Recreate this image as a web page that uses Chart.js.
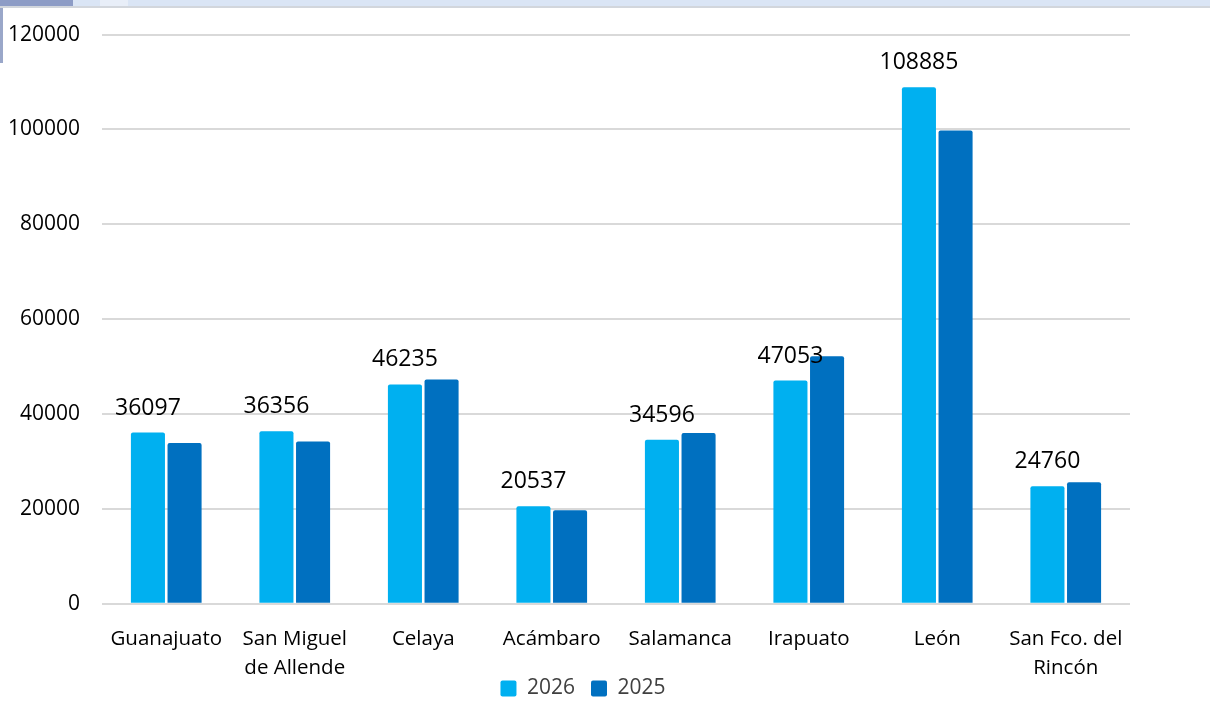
<!DOCTYPE html>
<html>
<head>
<meta charset="utf-8">
<script src="https://cdn.jsdelivr.net/npm/chart.js@4.4.1/dist/chart.umd.min.js"></script>
<style>
html,body{margin:0;padding:0;background:#fff;}
#wrap{position:relative;width:1210px;height:711px;overflow:hidden;}
#strip{position:absolute;left:0;top:0;width:1210px;height:6px;background:#dae5f5;border-bottom:2px solid #d2d6dc;}
#tab{position:absolute;left:0;top:0;width:73px;height:6px;background:#8d9cc6;}
#tab2{position:absolute;left:100px;top:0;width:28px;height:6px;background:#e8eef8;}
#edge{position:absolute;left:0;top:8px;width:3px;height:55px;background:#9aa7c9;}
canvas{position:absolute;left:0;top:0;}
</style>
</head>
<body>
<div id="wrap">
<canvas id="c" width="1210" height="711"></canvas>
<div id="strip"></div><div id="tab"></div><div id="tab2"></div><div id="edge"></div>
</div>
<script>
const categories = ["Guanajuato", ["San Miguel","de Allende"], "Celaya", "Acámbaro", "Salamanca", "Irapuato", "León", ["San Fco. del","Rincón"]];
const values2026 = [36097, 36356, 46235, 20537, 34596, 47053, 108885, 24760];
const values2025 = [33900, 34200, 47300, 19700, 36000, 52200, 99800, 25600];
const yTicks = [0, 20000, 40000, 60000, 80000, 100000, 120000];

const FONT = "'Open Sans', sans-serif";

const labelPlugin = {
  id: 'barLabels',
  afterLayout(chart) {
    const lg = chart.legend;
    if (lg) { lg.left += 14; lg.right += 14; lg.top -= 34; lg.bottom -= 34; }
  },
  afterDatasetsDraw(chart) {
    const ctx = chart.ctx;
    const meta = chart.getDatasetMeta(0);
    ctx.save();
    ctx.font = "23px " + FONT;
    ctx.fillStyle = "#000";
    ctx.textAlign = "center";
    ctx.textBaseline = "alphabetic";
    meta.data.forEach((bar, i) => {
      ctx.fillText(String(values2026[i]), bar.x, bar.y - 18);
    });
    ctx.restore();
  }
};

new Chart(document.getElementById('c'), {
  type: 'bar',
  data: {
    labels: categories,
    datasets: [
      { label: '2026', data: values2026, backgroundColor: '#00B0F0', borderRadius: 2, borderSkipped: 'bottom',
        categoryPercentage: 0.57, barPercentage: 0.93 },
      { label: '2025', data: values2025, backgroundColor: '#0070C0', borderRadius: 2, borderSkipped: 'bottom',
        categoryPercentage: 0.57, barPercentage: 0.93 }
    ]
  },
  options: {
    responsive: false,
    animation: false,
    devicePixelRatio: 1,
    layout: { padding: { left: 8, right: 80, top: 18, bottom: -32 } },
    plugins: {
      tooltip: { enabled: false },
      legend: {
        position: 'bottom',
        labels: {
          font: { family: FONT, size: 21 },
          color: '#404040',
          boxWidth: 16, boxHeight: 16,
          useBorderRadius: true, borderRadius: 2,
          padding: 16
        }
      }
    },
    scales: {
      x: {
        grid: { display: false },
        border: { display: false },
        afterFit(axis) { axis.paddingLeft = 0; axis.paddingRight = 0; },
        ticks: { font: { family: FONT, size: 20.5, lineHeight: 1.42 }, color: '#000', maxRotation: 0, autoSkip: false, padding: 13 }
      },
      y: {
        min: 0, max: 120000,
        afterBuildTicks(axis) { axis.ticks = yTicks.map(v => ({ value: v })); },
        afterFit(axis) { axis.width = 94; },
        grid: { color: '#d9d9d9', lineWidth: 2, drawTicks: false },
        border: { display: false },
        ticks: { font: { family: FONT, size: 21 }, color: '#000', padding: 22, callback: v => String(v) }
      }
    }
  },
  plugins: [labelPlugin]
});
</script>
</body>
</html>
